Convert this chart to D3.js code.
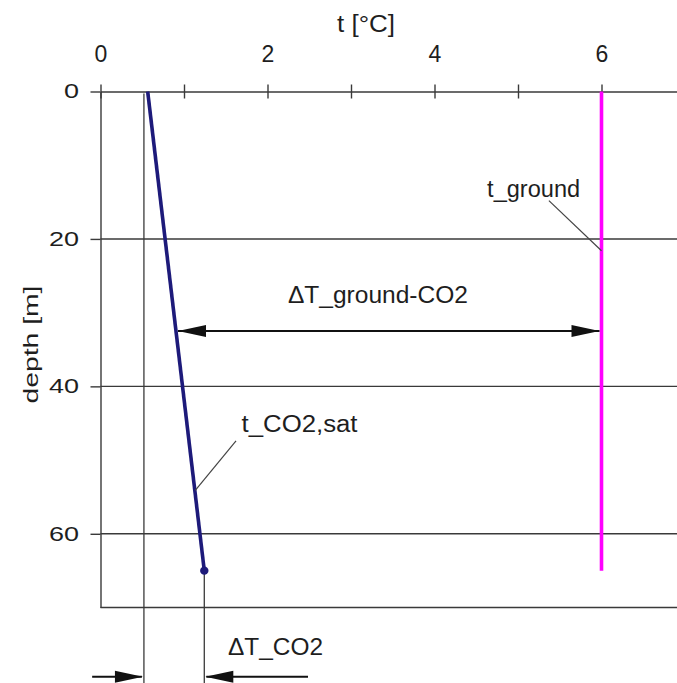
<!DOCTYPE html>
<html>
<head>
<meta charset="utf-8">
<script src="https://cdn.jsdelivr.net/npm/d3@7"></script>
<style>
  html, body { margin: 0; padding: 0; background: #fff; }
  svg { display: block; }
  text { font-family: "Liberation Sans", Arial, sans-serif; fill: #1e1e1e; }
</style>
</head>
<body>
<svg id="chart" width="677" height="683"></svg>
<script>
// Temperature axis (top) and depth axis (left)
const tempTicks = [0, 1, 2, 3, 4, 5, 6];
const tempLabels = [0, 2, 4, 6];
const tempDomain = [0, 7];
const depthTicks = [0, 20, 40, 60];
const depthGrid = [20, 40, 60];
const depthDomain = [0, 70];

// Profiles along the borehole
const profileDepth = [0, 65];
const tCO2sat = [0.565, 1.243];
const tGround = [6, 6];

// Dimension lines
const tSurfaceRef = 0.52;        // left extension line of ΔT_CO2
const gapDepth = 32.5;           // depth of the ΔT_ground-CO2 dimension
const bottomDimDepth = 79.4;     // depth of the ΔT_CO2 arrows (below the frame)

// Labels (anchor in t / depth units)
const labels = [
  { text: "t_ground",      t: 4.63,  d: 14.3, len: 93 },
  { text: "t_CO2,sat",     t: 1.689, d: 46.2, len: 116 },
  { text: "ΔT_ground-CO2", t: 2.245, d: 28.7, len: 180 },
  { text: "ΔT_CO2",        t: 1.527, d: 76.4, len: 95 }
];
const leaders = [
  [[5.37, 14.8], [6.0, 21.6]],
  [[1.623, 47.4], [1.135, 54.1]]
];

const W = 677, H = 683;
const svg = d3.select("#chart");

const x = d3.scaleLinear().domain(tempDomain).range([100.5, 685]);
const y = d3.scaleLinear().domain(depthDomain).range([91.5, 607.5]);

const lineCol = "#3a3a3a";

// Horizontal grid lines and bottom frame
svg.append("g").selectAll("line")
  .data(depthGrid.concat([depthDomain[1]]))
  .join("line")
  .attr("x1", x(0)).attr("x2", W)
  .attr("y1", d => y(d)).attr("y2", d => y(d))
  .attr("stroke", lineCol).attr("stroke-width", 1.4);

// Top temperature axis
const xAxis = svg.append("g")
  .attr("transform", `translate(0,${y(0)})`)
  .call(d3.axisTop(x).tickValues(tempTicks).tickSizeOuter(0)
    .tickFormat(d => tempLabels.includes(d) ? d : ""));
xAxis.select(".domain").attr("stroke", lineCol).attr("stroke-width", 1.6);
xAxis.selectAll(".tick line")
  .attr("y1", 7).attr("y2", -7)
  .attr("stroke", lineCol).attr("stroke-width", 1.4);
xAxis.selectAll(".tick text")
  .attr("y", -29.5).attr("dy", 0)
  .style("font-size", "23px").style("font-family", "'Liberation Sans', Arial, sans-serif")
  .attr("fill", "#1e1e1e");

// Left depth axis
const yAxis = svg.append("g")
  .attr("transform", `translate(${x(0)},0)`)
  .call(d3.axisLeft(y).tickValues(depthTicks).tickSize(10).tickSizeOuter(0));
yAxis.select(".domain").attr("stroke", lineCol).attr("stroke-width", 1.4);
yAxis.selectAll(".tick line").attr("stroke", lineCol).attr("stroke-width", 1.4);
yAxis.selectAll(".tick text")
  .attr("x", -21.5 / 1.35)
  .attr("transform", "scale(1.35,1)")
  .style("font-size", "20px").style("font-family", "'Liberation Sans', Arial, sans-serif")
  .attr("fill", "#1e1e1e");

// Axis titles
svg.append("text")
  .attr("x", x(3.18)).attr("y", 32)
  .attr("text-anchor", "middle")
  .attr("textLength", 58).attr("lengthAdjust", "spacingAndGlyphs")
  .style("font-size", "23px")
  .text("t [°C]");

svg.append("text")
  .attr("transform", `translate(38,${(y(0) + y(70)) / 2 - 5}) rotate(-90)`)
  .attr("text-anchor", "middle")
  .attr("textLength", 118).attr("lengthAdjust", "spacingAndGlyphs")
  .style("font-size", "20px")
  .text("depth [m]");

// Extension lines of the ΔT_CO2 dimension
svg.append("line")
  .attr("x1", x(tSurfaceRef)).attr("x2", x(tSurfaceRef))
  .attr("y1", y(0) + 2).attr("y2", H)
  .attr("stroke", lineCol).attr("stroke-width", 1.3);
svg.append("line")
  .attr("x1", x(tCO2sat[1])).attr("x2", x(tCO2sat[1]))
  .attr("y1", y(profileDepth[1])).attr("y2", H)
  .attr("stroke", lineCol).attr("stroke-width", 1.3);

// Ground temperature
const profile = d3.line().x(d => x(d[0])).y(d => y(d[1]));
svg.append("path")
  .attr("d", profile(tGround.map((t, i) => [t, profileDepth[i]])))
  .attr("fill", "none").attr("stroke", "#ff00ff").attr("stroke-width", 3.6);

// CO2 saturation temperature
const co2Col = "#1d1a7a";
svg.append("path")
  .attr("d", profile(tCO2sat.map((t, i) => [t, profileDepth[i]])))
  .attr("fill", "none").attr("stroke", co2Col).attr("stroke-width", 3.6);
svg.append("circle")
  .attr("cx", x(tCO2sat[1])).attr("cy", y(profileDepth[1])).attr("r", 4.2)
  .attr("fill", co2Col);

// Arrow helper: shaft from (x0,y0) to tip (x1,y1), filled head at tip
function arrowHead(g, xTail, xTip, yy) {
  const dir = Math.sign(xTip - xTail);
  const len = 28, half = 6;
  g.append("path")
    .attr("d", `M${xTip},${yy} L${xTip - dir * len},${yy - half} L${xTip - dir * len},${yy + half} Z`)
    .attr("fill", "#111");
}

// ΔT_ground-CO2 double arrow
const tAtGap = tCO2sat[0] + (tCO2sat[1] - tCO2sat[0]) * (gapDepth - profileDepth[0]) / (profileDepth[1] - profileDepth[0]);
const gGap = svg.append("g");
gGap.append("line")
  .attr("x1", x(tAtGap) + 2).attr("x2", x(tGround[0]) - 2)
  .attr("y1", y(gapDepth)).attr("y2", y(gapDepth))
  .attr("stroke", "#111").attr("stroke-width", 2);
arrowHead(gGap, x(tGround[0]), x(tAtGap) + 2, y(gapDepth));
arrowHead(gGap, x(tAtGap), x(tGround[0]) - 2, y(gapDepth));

// ΔT_CO2 arrows pointing inward
const gDim = svg.append("g");
const yb = y(bottomDimDepth);
gDim.append("line")
  .attr("x1", x(-0.1)).attr("x2", x(tSurfaceRef) - 2)
  .attr("y1", yb).attr("y2", yb)
  .attr("stroke", "#111").attr("stroke-width", 2);
arrowHead(gDim, x(-0.1), x(tSurfaceRef) - 1, yb);
gDim.append("line")
  .attr("x1", x(tCO2sat[1]) + 2).attr("x2", x(2.485))
  .attr("y1", yb).attr("y2", yb)
  .attr("stroke", "#111").attr("stroke-width", 2);
arrowHead(gDim, x(2.485), x(tCO2sat[1]) + 1, yb);

// Leader lines
svg.append("g").selectAll("line")
  .data(leaders)
  .join("line")
  .attr("x1", d => x(d[0][0])).attr("y1", d => y(d[0][1]))
  .attr("x2", d => x(d[1][0])).attr("y2", d => y(d[1][1]))
  .attr("stroke", "#444").attr("stroke-width", 1.2);

// Labels
svg.append("g").selectAll("text")
  .data(labels)
  .join("text")
  .attr("x", d => x(d.t)).attr("y", d => y(d.d))
  .attr("textLength", d => d.len).attr("lengthAdjust", "spacingAndGlyphs")
  .style("font-size", "23px")
  .text(d => d.text);
</script>
</body>
</html>
